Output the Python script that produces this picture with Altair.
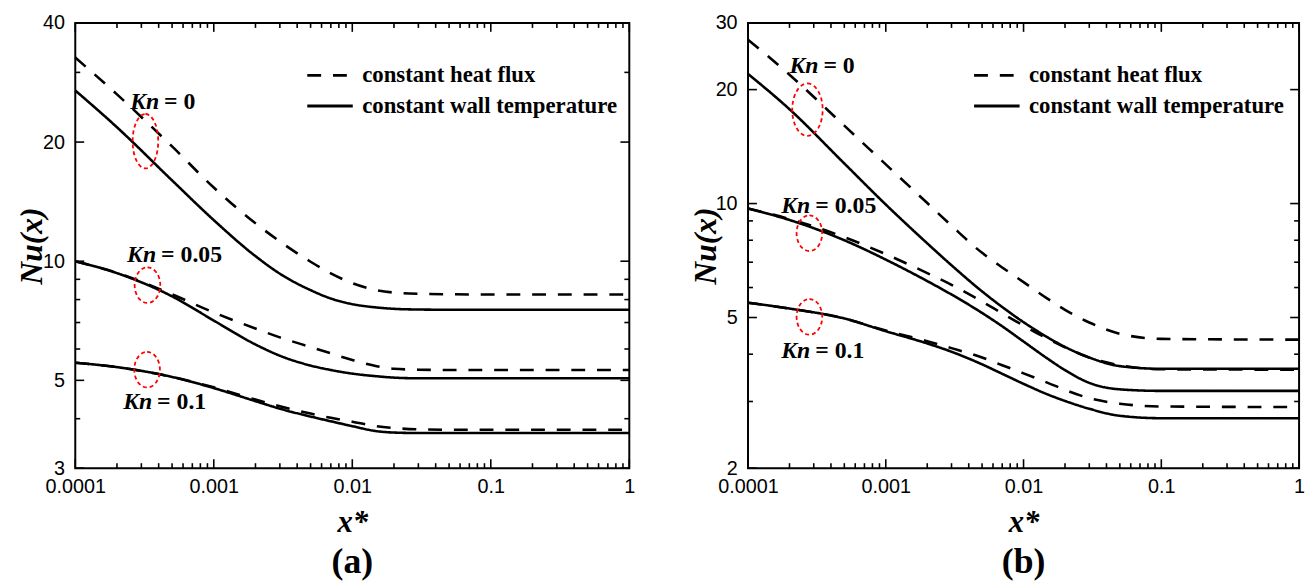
import altair as alt
import pandas as pd

# ---------------- data ----------------
X = [1e-4, 2e-4, 5e-4, 1e-3, 2e-3, 3e-3, 5e-3, 7e-3, 1e-2, 1.5e-2, 2e-2, 3e-2, 5e-2, 0.1, 1.0]

# panel (a)
A_KN0_FLUX = [32.7, 26.4, 19.5, 15.35, 12.47, 11.22, 9.97, 9.32, 8.80, 8.45, 8.33, 8.27, 8.25, 8.24, 8.24]
A_KN0_WALL = [27.0, 21.8, 16.0, 12.7, 10.3, 9.3, 8.45, 8.05, 7.79, 7.64, 7.58, 7.55, 7.54, 7.54, 7.54]
A_KN005_FLUX = [10.0, 9.35, 8.25, 7.42, 6.76, 6.42, 6.07, 5.85, 5.63, 5.43, 5.35, 5.32, 5.31, 5.31, 5.31]
A_KN005_WALL = [10.0, 9.33, 8.15, 7.08, 6.16, 5.77, 5.45, 5.31, 5.2, 5.12, 5.08, 5.06, 5.06, 5.06, 5.06]
A_KN01_FLUX = [5.54, 5.4, 5.1, 4.8, 4.47, 4.3, 4.12, 4.02, 3.93, 3.83, 3.79, 3.76, 3.75, 3.75, 3.75]
A_KN01_WALL = [5.54, 5.4, 5.1, 4.78, 4.43, 4.24, 4.05, 3.94, 3.83, 3.72, 3.69, 3.68, 3.68, 3.68, 3.68]

# panel (b)
B_KN0_FLUX = [27.1, 21.9, 16.06, 12.69, 10.03, 8.74, 7.41, 6.78, 6.2, 5.6, 5.24, 4.85, 4.53, 4.39, 4.37]
B_KN0_WALL = [22.0, 17.75, 12.76, 9.94, 7.85, 6.87, 5.86, 5.33, 4.86, 4.43, 4.18, 3.92, 3.72, 3.66, 3.66]
B_KN005_FLUX = [9.7, 9.1, 8.15, 7.35, 6.55, 6.1, 5.51, 5.13, 4.76, 4.39, 4.17, 3.92, 3.74, 3.65, 3.64]
B_KN005_WALL = [9.7, 9.05, 8.0, 7.11, 6.24, 5.75, 5.14, 4.74, 4.32, 3.89, 3.63, 3.36, 3.23, 3.2, 3.2]
B_KN01_FLUX = [5.47, 5.28, 4.97, 4.62, 4.33, 4.15, 3.92, 3.74, 3.56, 3.36, 3.22, 3.06, 2.96, 2.91, 2.90]
B_KN01_WALL = [5.47, 5.28, 4.97, 4.6, 4.27, 4.06, 3.76, 3.55, 3.34, 3.13, 3.01, 2.87, 2.75, 2.71, 2.71]

BC = ["constant heat flux", "constant wall temperature"]
KN_TEXT = ["= 0", "= 0.05", "= 0.1"]

# annotation anchors (data coordinates)
A_LABEL_X = [4.1e-4, 3.9e-4, 3.65e-4]
A_LABEL_Y = [25.2, 10.34, 4.40]
B_LABEL_X = [3.3e-4, 2.88e-4, 2.88e-4]
B_LABEL_Y = [23.1, 9.85, 4.08]

A_ELL_X = [3.21e-4, 3.32e-4, 3.3e-4]
A_ELL_Y = [20.1, 8.7, 5.32]
B_ELL_X = [2.70e-4, 2.79e-4, 2.79e-4]
B_ELL_Y = [17.7, 8.35, 5.02]

X_DOMAIN = [1e-4, 1]
X_MAJOR = [0.0001, 0.001, 0.01, 0.1, 1]
X_MINOR = [m * 10.0 ** e for e in range(-4, 0) for m in range(2, 10)]
A_Y_MAJOR = [3, 5, 10, 20, 40]
A_Y_MINOR = [4, 6, 7, 8, 9, 30]
B_Y_MAJOR = [2, 5, 10, 20, 30]
B_Y_MINOR = [3, 4, 6, 7, 8, 9]

# ---------------- styles ----------------
SERIF = "Liberation Serif"
SANS = "Liberation Sans"
H = 450
MAJ_SIZE, MIN_SIZE = 324, 100          # symbol size -> tick length 9 px / 5 px
UP, DOWN, RIGHT, LEFT = "M0,0L0,-1", "M0,0L0,1", "M0,0L1,0", "M0,0L-1,0"


def ellipse_path(rx):
    k = 0.5523
    a, b = rx, 1.0
    return (f"M0,{-b}C{k*a},{-b},{a},{-k*b},{a},0C{a},{k*b},{k*a},{b},0,{b}"
            f"C{-k*a},{b},{-a},{k*b},{-a},0C{-a},{-k*b},{-k*a},{-b},0,{-b}Z")


def lines_df(series):
    rows = []
    for kn, flux, wall in series:
        for bc, ys in zip(BC, (flux, wall)):
            for x, y in zip(X, ys):
                rows.append({"x": x, "y": y, "bc": bc, "series": f"{kn}-{bc}"})
    return pd.DataFrame(rows)


def panel(series, ydom, ymajor, yminor, ex, ey, lx, ly, W, tall, short, leg_x, title_x, caption):
    xs = alt.Scale(type="log", domain=X_DOMAIN, nice=False)
    ys = alt.Scale(type="log", domain=ydom, nice=False)

    df = lines_df(series)
    lines = alt.Chart(df).mark_line(color="black", strokeWidth=2.6, interpolate="monotone").encode(
        x=alt.X("x:Q", scale=xs, axis=alt.Axis(
            orient="bottom", values=X_MAJOR, format="~g", ticks=False, tickSize=0, domain=False,
            grid=False, labelFont=SANS, labelFontSize=20, labelColor="black", labelPadding=9,
            labelFlush=False, title="x*", titleFont=SERIF, titleFontSize=31, titleFontWeight="bold",
            titleFontStyle="italic", titleColor="black", titleY=55, titleBaseline="middle")),
        y=alt.Y("y:Q", scale=ys, axis=alt.Axis(
            orient="left", values=ymajor, format="~g", ticks=False, tickSize=0, domain=False,
            grid=False, labelFont=SANS, labelFontSize=20, labelColor="black", labelPadding=11,
            labelFlush=False, title="Nu(x)", titleFont=SERIF, titleFontSize=32,
            titleFontWeight="bold", titleFontStyle="italic", titleColor="black",
            titleX=title_x, titleY=H / 2, titleAngle=-90, titleAlign="center",
            titleBaseline="middle")),
        detail="series:N",
        strokeDash=alt.StrokeDash("bc:N", scale=alt.Scale(domain=BC, range=[[14, 12], [1, 0]]),
                                  legend=alt.Legend(
                                      orient="none", legendX=leg_x, legendY=38, title=None,
                                      symbolType="stroke", symbolSize=2116, symbolStrokeWidth=3,
                                      symbolStrokeColor="black", labelFont=SERIF, labelFontSize=23,
                                      labelFontWeight="bold", labelColor="black", labelOffset=8,
                                      labelLimit=500, clipHeight=30, rowPadding=1, padding=0,
                                      symbolOffset=0)),
    )

    # inward ticks on the frame, drawn as line-shaped symbols sitting on the frame edges
    def xtick(vals, edge, shape, size):
        d = pd.DataFrame({"v": vals, "edge": [edge] * len(vals)})
        return alt.Chart(d).mark_point(shape=shape, size=size, filled=False, color="black",
                                       strokeWidth=1.6, opacity=1).encode(
            x=alt.X("v:Q", scale=xs, axis=None), y=alt.Y("edge:Q", scale=ys, axis=None))

    def ytick(vals, edge, shape, size):
        d = pd.DataFrame({"v": vals, "edge": [edge] * len(vals)})
        return alt.Chart(d).mark_point(shape=shape, size=size, filled=False, color="black",
                                       strokeWidth=1.6, opacity=1).encode(
            y=alt.Y("v:Q", scale=ys, axis=None), x=alt.X("edge:Q", scale=xs, axis=None))

    ticks = [
        xtick(X_MAJOR, ydom[0], UP, MAJ_SIZE), xtick(X_MINOR, ydom[0], UP, MIN_SIZE),
        xtick(X_MAJOR, ydom[1], DOWN, MAJ_SIZE), xtick(X_MINOR, ydom[1], DOWN, MIN_SIZE),
        ytick(ymajor, X_DOMAIN[0], RIGHT, MAJ_SIZE), ytick(yminor, X_DOMAIN[0], RIGHT, MIN_SIZE),
        ytick(ymajor, X_DOMAIN[1], LEFT, MAJ_SIZE), ytick(yminor, X_DOMAIN[1], LEFT, MIN_SIZE),
    ]

    edf = pd.DataFrame({"x": ex, "y": ey})
    ell_tall = alt.Chart(edf.iloc[:1]).mark_point(
        shape=ellipse_path(tall[0]), size=tall[1], filled=False, color="red", strokeWidth=1.8,
        strokeDash=[4, 3], opacity=1).encode(
        x=alt.X("x:Q", scale=xs, axis=None), y=alt.Y("y:Q", scale=ys, axis=None))
    ell_short = alt.Chart(edf.iloc[1:]).mark_point(
        shape=ellipse_path(short[0]), size=short[1], filled=False, color="red", strokeWidth=1.8,
        strokeDash=[4, 3], opacity=1).encode(
        x=alt.X("x:Q", scale=xs, axis=None), y=alt.Y("y:Q", scale=ys, axis=None))

    ldf = pd.DataFrame({"x": lx, "y": ly, "rest": KN_TEXT})
    kn = alt.Chart(ldf).mark_text(text="Kn", font=SERIF, fontSize=24, fontWeight="bold",
                                  fontStyle="italic", align="right", baseline="middle",
                                  dx=-1, color="black").encode(
        x=alt.X("x:Q", scale=xs, axis=None), y=alt.Y("y:Q", scale=ys, axis=None))
    rest = alt.Chart(ldf).mark_text(font=SERIF, fontSize=24, fontWeight="bold", align="left",
                                    baseline="middle", dx=4, color="black").encode(
        x=alt.X("x:Q", scale=xs, axis=None), y=alt.Y("y:Q", scale=ys, axis=None), text="rest:N")

    return alt.layer(lines, *ticks, ell_tall, ell_short, kn, rest).resolve_axis(
        x="independent", y="independent").properties(
        width=W, height=H,
        title=alt.TitleParams(caption, orient="bottom", anchor="middle", frame="group", font=SERIF,
                              fontSize=36, fontWeight="bold", color="black", offset=8))


pa = panel([("0", A_KN0_FLUX, A_KN0_WALL), ("0.05", A_KN005_FLUX, A_KN005_WALL),
            ("0.1", A_KN01_FLUX, A_KN01_WALL)],
           [3, 40], A_Y_MAJOR, A_Y_MINOR, A_ELL_X, A_ELL_Y, A_LABEL_X, A_LABEL_Y,
           560, (0.47, 3025), (0.72, 1296), 233, -44, "(a)")
pb = panel([("0", B_KN0_FLUX, B_KN0_WALL), ("0.05", B_KN005_FLUX, B_KN005_WALL),
            ("0.1", B_KN01_FLUX, B_KN01_WALL)],
           [2, 30], B_Y_MAJOR, B_Y_MINOR, B_ELL_X, B_ELL_Y, B_LABEL_X, B_LABEL_Y,
           557, (0.58, 2809), (0.72, 1296), 227, -43, "(b)")

chart = alt.hconcat(pa, pb, spacing=53).resolve_scale(
    x="independent", y="independent", strokeDash="independent").resolve_legend(
    strokeDash="independent").configure_view(stroke="black", strokeWidth=2).properties(
    padding={"left": 7, "top": 1, "right": 0, "bottom": 0}, background="white")

chart.save("out.html", embed_options={"renderer": "svg", "actions": False})
